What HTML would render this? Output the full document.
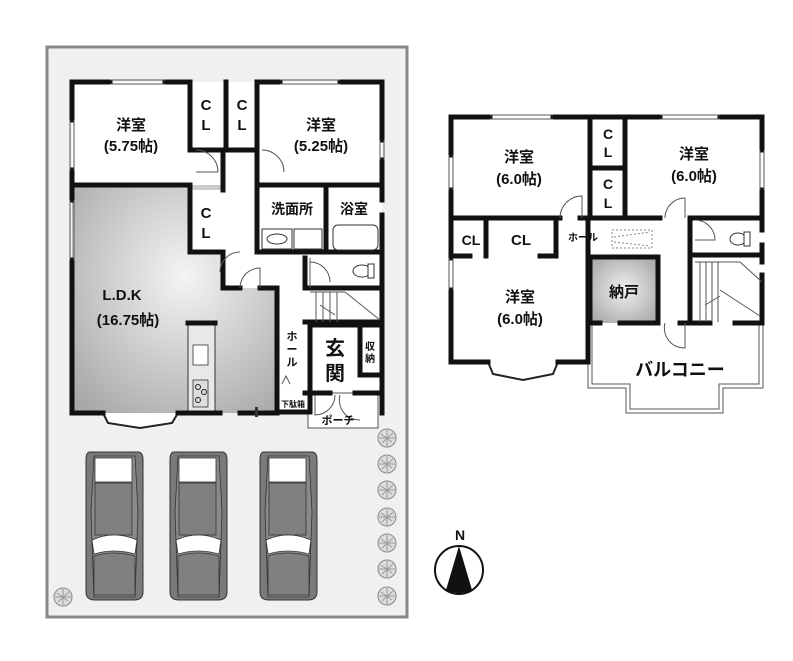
<!DOCTYPE html>
<html><head><meta charset="utf-8"><style>
html,body{margin:0;padding:0;background:#fff;}
svg{display:block;}
text{font-family:"Liberation Sans","Noto Sans CJK JP",sans-serif;font-weight:bold;fill:#111;}
</style></head><body>
<svg width="793" height="661" viewBox="0 0 793 661" xmlns="http://www.w3.org/2000/svg">
<defs>
<radialGradient id="g1" cx="0.55" cy="0.4" r="0.75"><stop offset="0" stop-color="#f4f4f4"/><stop offset="1" stop-color="#a8a8a8"/></radialGradient>
<radialGradient id="g2" cx="0.5" cy="0.5" r="0.7"><stop offset="0" stop-color="#f0f0f0"/><stop offset="1" stop-color="#a0a0a0"/></radialGradient>
<g id="car">
<path d="M4,0 H52 Q57,0 57,8 V140 Q57,148 48,148 H9 Q0,148 0,140 V8 Q0,0 4,0Z" fill="#7a7a7a" stroke="#333" stroke-width="1"/>
<path d="M8,4 H49 L52,60 L49,145 H8 L5,60Z" fill="#8a8a8a" stroke="#333" stroke-width="0.8"/>
<rect x="9" y="6" width="37" height="24" fill="#fff" stroke="#333" stroke-width="0.8"/>
<rect x="9" y="31" width="37" height="52" fill="#808080" stroke="#333" stroke-width="0.8"/>
<path d="M6,88 Q28,78 51,88 L49,102 Q28,96 8,102Z" fill="#fff" stroke="#333" stroke-width="0.8"/>
<path d="M8,104 Q28,98 49,104 V143 H8Z" fill="#808080" stroke="#333" stroke-width="0.8"/>
</g>
<g id="tree"><circle r="9" fill="#ddd" stroke="#888" stroke-width="1"/><path d="M-6,-4 L5,4 M-5,5 L6,-5 M0,-8 V8 M-8,0 H8" stroke="#999" stroke-width="1"/></g>
</defs>
<!-- lot -->
<rect x="47" y="47" width="360" height="570" fill="#f0f0f0" stroke="#888" stroke-width="3"/>

<!-- 1F fills -->
<rect x="72" y="82" width="310" height="331" fill="#fff"/>
<path d="M72,185 H223 V288 H277 V413 H72Z" fill="url(#g1)"/>
<rect x="190" y="190" width="33" height="62" fill="#fff"/>
<rect x="188" y="323" width="27" height="90" fill="#e8e8e8" stroke="#333" stroke-width="1"/>
<rect x="193" y="345" width="15" height="20" fill="#fff" stroke="#333" stroke-width="0.8"/>
<rect x="193" y="380" width="15" height="27" fill="#ddd" stroke="#333" stroke-width="0.8"/>
<circle cx="198" cy="387" r="2.5" fill="none" stroke="#222"/><circle cx="204" cy="392" r="2.5" fill="none" stroke="#222"/><circle cx="198" cy="400" r="2.5" fill="none" stroke="#222"/>
<!-- bay window 1F -->
<path d="M103,413 L108,423 L140,428 L172,423 L178,413" fill="#fff" stroke="#222" stroke-width="2"/>
<!-- porch -->
<rect x="308" y="393" width="70" height="35" fill="#fff" stroke="#555" stroke-width="1"/>

<g stroke="#111" stroke-width="5" fill="none" stroke-linecap="square">
<path d="M72,82 H110 M165,82 H190 M190,82 V150 H222 M226,150 H257 V82 M226,82 V150 M257,82 H280 M340,82 H382 V140 M382,160 V200 M382,215 V413"/>
<path d="M72,82 V120 M72,170 V200 M72,260 V413 H103 M178,413 H220 M240,413 H277"/>
<path d="M72,185 H190 M190,190 V252 H222 M223,150 V190 M223,252 V288 H240 M260,288 H277 V413"/>
<path d="M257,150 V185 H382 M257,185 V252 H382 M326,187 V252"/>
<path d="M305,258 V288 H382 M305,322 H382"/>
<path d="M310,325 V390 M310,325 H380 M360,330 V375 H380 M305,393 H330 M355,393 H382 M277,393 V412 H310 V393"/>
<path d="M188,323 H215"/>
</g>
<!-- 1F thin window lines -->
<g stroke="#555" stroke-width="1" fill="none">
<path d="M110,80 H165 M110,84 H165 M280,80 H340 M280,84 H340 M70,120 V170 M74,120 V170 M70,200 V260 M74,200 V260 M380,140 V160 M384,140 V160"/>
<path d="M196,150 A22,22 0 0,1 218,172 M196,172 H218 M262,150 A22,22 0 0,1 284,172 M240,252 A20,20 0 0,0 220,272 M240,288 A20,20 0 0,1 260,268 V288"/>
<path d="M310,262 A20,20 0 0,1 330,282 M310,288 V258"/>
<path d="M310,292 H345 M316,292 V322 M323,292 V322 M330,292 V322 M337,292 V322 M345,292 L380,320 M320,305 L335,315"/>
<path d="M282,384 L286,376 L290,384"/>
<path d="M315,395 V415 A20,20 0 0,0 335,395 M340,395 A20,20 0 0,0 360,420"/>
</g>
<!-- bath fixtures -->
<g stroke="#333" stroke-width="1" fill="#fff">
<rect x="262" y="229" width="30" height="20"/><ellipse cx="277" cy="239" rx="10" ry="5"/>
<rect x="294" y="229" width="28" height="20"/>
<rect x="333" y="225" width="45" height="25" rx="5"/>
<ellipse cx="362" cy="271" rx="9" ry="6"/><rect x="368" y="264" width="6" height="14"/>
</g>
<rect x="255" y="407" width="3" height="10" fill="#333"/>

<!-- 1F text -->
<text x="131" y="130" font-size="15" text-anchor="middle">洋室</text>
<text x="131" y="151" font-size="15" text-anchor="middle">(5.75帖)</text>
<text x="321" y="130" font-size="15" text-anchor="middle">洋室</text>
<text x="321" y="151" font-size="15" text-anchor="middle">(5.25帖)</text>
<text x="206" y="110" font-size="15" text-anchor="middle">C</text><text x="206" y="130" font-size="15" text-anchor="middle">L</text>
<text x="242" y="110" font-size="15" text-anchor="middle">C</text><text x="242" y="130" font-size="15" text-anchor="middle">L</text>
<text x="206" y="218" font-size="15" text-anchor="middle">C</text><text x="206" y="238" font-size="15" text-anchor="middle">L</text>
<text x="292" y="214" font-size="14" text-anchor="middle">洗面所</text>
<text x="354" y="214" font-size="14" text-anchor="middle">浴室</text>
<text x="122" y="300" font-size="15" text-anchor="middle">L.D.K</text>
<text x="128" y="325" font-size="15" text-anchor="middle">(16.75帖)</text>
<text x="292" y="340" font-size="11" text-anchor="middle">ホ</text><text x="292" y="353" font-size="11" text-anchor="middle">ー</text><text x="292" y="366" font-size="11" text-anchor="middle">ル</text>
<text x="335" y="355" font-size="20" text-anchor="middle">玄</text><text x="335" y="380" font-size="20" text-anchor="middle">関</text>
<text x="370" y="350" font-size="10" text-anchor="middle">収</text><text x="370" y="362" font-size="10" text-anchor="middle">納</text>
<text x="293" y="407" font-size="8" text-anchor="middle">下駄箱</text>
<text x="338" y="424" font-size="11" text-anchor="middle">ポーチ</text>

<!-- cars -->
<use href="#car" x="86" y="452"/><use href="#car" x="170" y="452"/><use href="#car" x="260" y="452"/>
<!-- trees -->
<use href="#tree" x="387" y="438"/><use href="#tree" x="387" y="464"/><use href="#tree" x="387" y="490"/><use href="#tree" x="387" y="517"/><use href="#tree" x="387" y="543"/><use href="#tree" x="387" y="569"/><use href="#tree" x="387" y="596"/><use href="#tree" x="63" y="597"/>

<!-- compass -->
<circle cx="459" cy="570" r="24" fill="#fff" stroke="#111" stroke-width="2"/>
<path d="M459,546 L446,590 Q459,596 472,590Z" fill="#111"/>
<text x="455" y="540" font-size="14" font-weight="normal">N</text>

<!-- 2F -->
<rect x="451" y="117" width="311" height="206" fill="#fff"/>
<rect x="451" y="256" width="137" height="106" fill="#fff"/>
<rect x="590" y="257" width="68" height="66" fill="url(#g2)"/>
<path d="M488,362 L493,374 L523,380 L553,374 L558,362" fill="#fff" stroke="#222" stroke-width="2"/>
<path d="M588,323 V388 H626 V413 H723 V388 H763 V323" fill="#fff" stroke="#555" stroke-width="1"/>
<path d="M592,323 V384 H630 V409 H719 V384 H759 V323" fill="none" stroke="#555" stroke-width="1"/>
<g stroke="#111" stroke-width="5" fill="none" stroke-linecap="square">
<path d="M451,117 H490 M553,117 H660 M720,117 H762 V150 M762,190 V230 M762,245 V262 M762,275 V323 H735 M710,323 H680 M658,323 H620 M600,323 H588"/>
<path d="M451,117 V155 M451,190 V258 M451,290 V362 H488 M558,362 H588 V218"/>
<path d="M451,218 H560 M580,218 H660 M690,218 H762 M590,117 V218 M625,117 V218 M590,168 H625"/>
<path d="M486,220 V256 M556,220 V256 M451,256 H470 M540,256 H556 M590,257 H658 V323 M590,257 V323 M690,218 V322 M690,255 H762"/>
</g>
<g stroke="#555" stroke-width="1" fill="none">
<path d="M490,115 H553 M490,119 H553 M660,115 H720 M660,119 H720 M449,155 V190 M453,155 V190 M449,258 V290 M453,258 V290 M760,150 V190 M764,150 V190"/>
<path d="M560,218 A22,22 0 0,1 582,196 V218 M665,218 A20,20 0 0,1 685,198 V218 M695,220 A20,20 0 0,1 715,240 H695"/>
<path d="M610,288 A20,20 0 0,0 628,306" stroke="none"/>
<path d="M665,323 A20,20 0 0,0 685,348 V323"/>
<path d="M695,262 H740 M700,262 V322 M706,262 V322 M712,262 V322 M718,262 V322 M740,262 L762,282 M720,290 L760,316 M705,305 L720,296"/>
</g>
<rect x="612" y="230" width="40" height="18" fill="none" stroke="#888" stroke-width="1" stroke-dasharray="2,2"/>
<path d="M614,237 L650,232 M614,242 L650,246" stroke="#888" stroke-width="1" stroke-dasharray="2,2"/>
<g stroke="#333" stroke-width="1" fill="#fff"><ellipse cx="738" cy="239" rx="8" ry="6"/><rect x="744" y="232" width="6" height="14"/></g>

<text x="519" y="162" font-size="15" text-anchor="middle">洋室</text>
<text x="519" y="184" font-size="15" text-anchor="middle">(6.0帖)</text>
<text x="694" y="159" font-size="15" text-anchor="middle">洋室</text>
<text x="694" y="181" font-size="15" text-anchor="middle">(6.0帖)</text>
<text x="608" y="139" font-size="14" text-anchor="middle">C</text><text x="608" y="157" font-size="14" text-anchor="middle">L</text>
<text x="608" y="189" font-size="14" text-anchor="middle">C</text><text x="608" y="208" font-size="14" text-anchor="middle">L</text>
<text x="471" y="245" font-size="14" text-anchor="middle">CL</text>
<text x="521" y="245" font-size="15" text-anchor="middle">CL</text>
<text x="583" y="241" font-size="10" text-anchor="middle">ホール</text>
<text x="520" y="302" font-size="15" text-anchor="middle">洋室</text>
<text x="520" y="324" font-size="15" text-anchor="middle">(6.0帖)</text>
<text x="624" y="297" font-size="15" text-anchor="middle">納戸</text>
<text x="680" y="376" font-size="18" text-anchor="middle">バルコニー</text>
</svg>
</body></html>
